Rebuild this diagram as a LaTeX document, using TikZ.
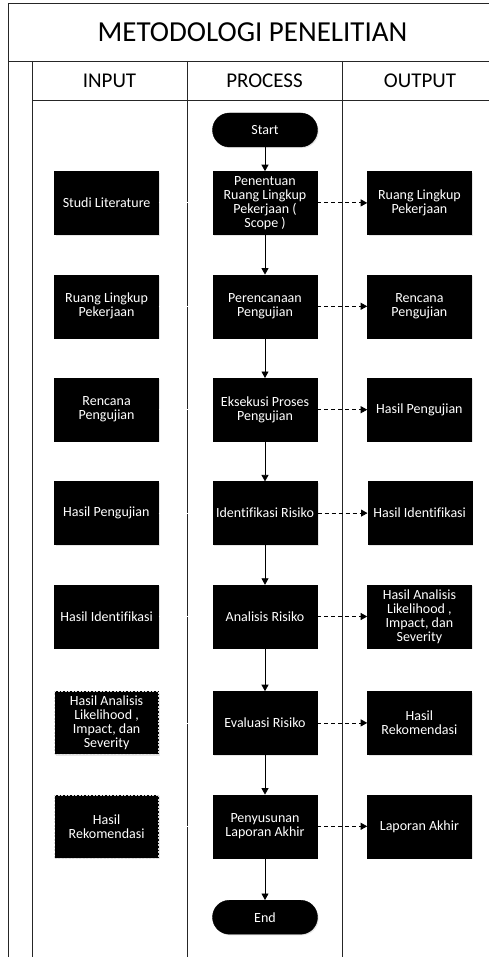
\documentclass[tikz,border=0pt]{standalone}
\usepackage{fontspec}
\setmainfont{Carlito}[Ligatures=NoCommon]
\usetikzlibrary{arrows.meta,positioning,shadows}

\begin{document}
\begin{tikzpicture}[
    x=1pt,y=1pt,
    node distance=40pt and 50pt,
    frame/.style={draw=black!85,line width=0.8pt},
    box/.style={draw=black,fill=black,text=white,minimum height=63pt,minimum width=104pt,align=center,
        font=\fontsize{14}{14}\selectfont,drop shadow={opacity=0.2,shadow xshift=1.2pt,shadow yshift=-1.2pt}},
    dbox/.style={box,draw=black!15,dash pattern=on 2pt off 1.5pt},
    term/.style={box,rounded corners=17pt,minimum height=34pt,minimum width=105pt},
    arr/.style={-{Triangle[length=6.5pt,width=7pt]},line width=0.8pt,black},
    darr/.style={arr,dash pattern=on 4pt off 3pt},
    link/.style={white,line width=0.8pt}
]
\useasboundingbox (0,0) rectangle (489,-957);

% swimlane frame
\draw[frame] (8,-957) -- (8,-3) -- (489,-3);
\draw[frame] (8,-61) -- (489,-61);
\draw[frame] (32,-100) -- (489,-100);
\foreach \x in {32,187,342} \draw[frame] (\x,-61) -- (\x,-957);

\node[font=\fontsize{29}{32}\selectfont] (title) at (252.5,-32) {METODOLOGI PENELITIAN};
\node[font=\fontsize{21}{24}\selectfont] (hdrIn) at (109.5,-80.5) {INPUT};
\node[font=\fontsize{21}{24}\selectfont] (hdrProc) at (264.5,-80.5) {PROCESS};
\node[font=\fontsize{21}{24}\selectfont] (hdrOut) at (420,-80.5) {OUTPUT};

% process lane
\node[term] (start) at (265,-130) {Start};
\node[box,below=24pt of start] (scope) {Penentuan\\Ruang Lingkup\\Pekerjaan (\\Scope )};
\node[box,below=of scope] (plan) {Perencanaan\\Pengujian};
\node[box,below=of plan] (exec) {Eksekusi Proses\\Pengujian};
\node[box,below=of exec] (ident) {Identifikasi Risiko};
\node[box,below=of ident] (anal) {Analisis Risiko};
\node[box,below=43pt of anal] (eval) {Evaluasi Risiko};
\node[box,below=of eval] (report) {Penyusunan\\Laporan Akhir};
\node[term,below=42pt of report] (end) {End};

% input lane
\node[box,left=54pt of scope] (inScope) {Studi Literature};
\node[box,left=54pt of plan] (inPlan) {Ruang Lingkup\\Pekerjaan};
\node[box,left=54pt of exec] (inExec) {Rencana\\Pengujian};
\node[box,left=54pt of ident] (inIdent) {Hasil Pengujian};
\node[box,left=54pt of anal] (inAnal) {Hasil Identifikasi};
\node[dbox,left=54pt of eval] (inEval) {Hasil Analisis\\Likelihood ,\\Impact, dan\\Severity};
\node[dbox,left=54pt of report] (inReport) {Hasil\\Rekomendasi};

% output lane
\node[box,right=of scope] (outScope) {Ruang Lingkup\\Pekerjaan};
\node[box,right=of plan] (outPlan) {Rencana\\Pengujian};
\node[box,right=of exec] (outExec) {Hasil Pengujian};
\node[box,right=of ident] (outIdent) {Hasil Identifikasi};
\node[box,right=of anal] (outAnal) {Hasil Analisis\\Likelihood ,\\Impact, dan\\Severity};
\node[box,right=of eval] (outEval) {Hasil\\Rekomendasi};
\node[box,right=of report] (outReport) {Laporan Akhir};

\foreach \a/\b in {start/scope,scope/plan,plan/exec,exec/ident,ident/anal,anal/eval,eval/report,report/end}
    \draw[arr] (\a) -- (\b);
\foreach \a/\b in {scope/outScope,plan/outPlan,exec/outExec,ident/outIdent,anal/outAnal,eval/outEval,report/outReport}
    \draw[darr] (\a) -- (\b);
\foreach \a/\b in {inScope/scope,inPlan/plan,inExec/exec,inIdent/ident,inAnal/anal,inEval/eval,inReport/report}
    \draw[link] (\a) -- (\b);
\end{tikzpicture}
\end{document}
